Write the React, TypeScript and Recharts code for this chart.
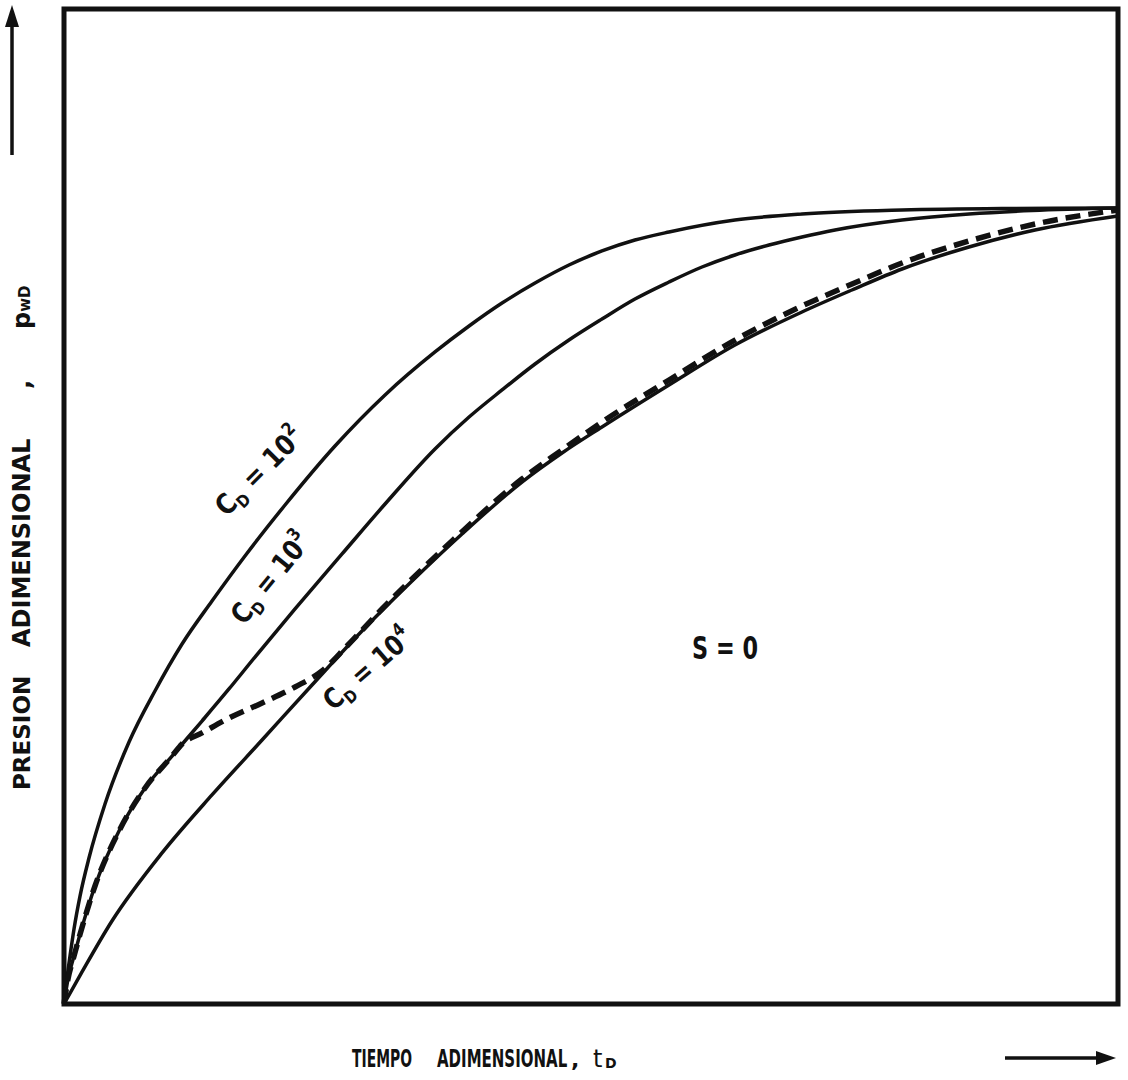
import { LineChart, Line, XAxis, YAxis, ReferenceArea } from 'recharts';

// dimensionless time tD vs dimensionless pressure pwD, S = 0
const curveCd2: [number, number][] = [
    [0, 0], [0.19, 1.81], [0.57, 4.82], [0.95, 7.54], [1.52, 10.85], [2.37, 14.67],
    [3.89, 20.1], [6.17, 26.33], [8.63, 31.46], [11.2, 36.18], [14.04, 40.5],
    [17.17, 45.03], [20.97, 50.15], [25.71, 56.08], [30.46, 61.21], [35.2, 65.53],
    [38.43, 68.14], [41.56, 70.45], [44.69, 72.46], [47.91, 74.27], [51.04, 75.68],
    [54.17, 76.78], [57.4, 77.59], [63.66, 78.79], [70.02, 79.4], [79.51, 79.8],
    [88.99, 79.95], [100, 80.0],
];

const curveCd3: [number, number][] = [
    [0, 0], [0.38, 2.51], [0.95, 4.82], [1.42, 6.63], [2.94, 11.86], [5.22, 17.39],
    [7.69, 21.71], [10.25, 24.92], [13.09, 28.44], [15.65, 31.66], [18.12, 34.87],
    [21.92, 39.7], [26.38, 45.23], [30.46, 50.25], [35.2, 55.78], [38.43, 58.99],
    [41.56, 61.71], [44.69, 64.32], [47.91, 66.73], [51.04, 68.84], [54.17, 70.85],
    [57.4, 72.56], [60.53, 74.07], [63.66, 75.28], [66.89, 76.28], [70.02, 77.09],
    [73.15, 77.79], [79.51, 78.79], [85.86, 79.4], [91.84, 79.75], [100, 80.0],
];

const curveCd4: [number, number][] = [
    [0, 0], [1.71, 3.22], [4.55, 8.34], [9.3, 15.18], [14.04, 21.01], [18.79, 26.53],
    [23.53, 32.06], [28.27, 37.49], [33.02, 42.51], [37.76, 47.24], [43.45, 52.46],
    [47.25, 55.38], [51.04, 57.99], [57.4, 62.21], [63.66, 66.23], [70.02, 69.55],
    [74.76, 71.76], [79.51, 73.87], [85.86, 76.08], [92.13, 77.79], [100, 79.2],
];

// dashed transition curve: rides on CD=10^3 early, then runs onto CD=10^4
const curveDashed: [number, number][] = [
    [0, 0], [0.38, 2.51], [0.95, 4.82], [1.42, 6.63], [2.94, 11.86], [5.22, 17.39],
    [7.69, 21.71], [10.25, 24.92], [11.2, 26.13], [13.09, 27.24], [15.65, 28.74],
    [18.79, 30.25], [21.92, 31.86], [24.48, 33.47], [26.85, 35.98], [30.17, 39.7],
    [36.81, 46.53], [43.45, 52.76], [47.25, 55.68], [51.04, 58.49], [57.4, 62.71],
    [63.66, 66.73], [70.02, 70.15], [74.76, 72.36], [79.51, 74.47], [85.86, 76.68],
    [92.13, 78.39], [100, 79.8],
];

const toPoints = (pts: [number, number][]) => pts.map(([t, p]) => ({ t, p }));

const INK = '#111';
const FONT = '"DejaVu Sans", sans-serif';

function CurveLabel({ x, y, angle, exp, len }: { x: number; y: number; angle: number; exp: string; len: number }) {
    return (
        <text
            x={x}
            y={y}
            transform={`rotate(${angle} ${x} ${y})`}
            textAnchor="middle"
            fontFamily={FONT}
            fontWeight="bold"
            fontSize={28}
            fill={INK}
            textLength={len}
            lengthAdjust="spacingAndGlyphs"
        >
            C
            <tspan dy={6} fontSize={17}>D</tspan>
            <tspan dy={-6}> = 10</tspan>
            <tspan dy={-13} fontSize={18}>{exp}</tspan>
        </text>
    );
}

export default function App() {
    return (
        <div style={{ position: 'absolute', left: 0, top: 0, width: 1128, height: 1080, background: '#fff' }}>
            <LineChart width={1128} height={1080} margin={{ top: 9, left: 64, right: 10, bottom: 76 }}>
                <XAxis type="number" dataKey="t" domain={[0, 100]} hide />
                <YAxis type="number" dataKey="p" domain={[0, 100]} hide />
                <ReferenceArea x1={0} x2={100} y1={0} y2={100} fill="none" stroke={INK} strokeWidth={5} />
                <Line data={toPoints(curveCd2)} dataKey="p" type="monotone" stroke={INK} strokeWidth={3.5} dot={false} isAnimationActive={false} />
                <Line data={toPoints(curveCd3)} dataKey="p" type="monotone" stroke={INK} strokeWidth={3.5} dot={false} isAnimationActive={false} />
                <Line data={toPoints(curveCd4)} dataKey="p" type="monotone" stroke={INK} strokeWidth={3.5} dot={false} isAnimationActive={false} />
                <Line data={toPoints(curveDashed)} dataKey="p" type="monotone" stroke={INK} strokeWidth={5.5} strokeDasharray="15 8" dot={false} isAnimationActive={false} />

                <CurveLabel x={266} y={478} angle={-45} exp="2" len={112} />
                <CurveLabel x={278} y={584} angle={-51} exp="3" len={108} />
                <CurveLabel x={374} y={676} angle={-41} exp="4" len={108} />

                <text x={725} y={659} textAnchor="middle" fontFamily={FONT} fontWeight="bold" fontSize={32} fill={INK} textLength={66} lengthAdjust="spacingAndGlyphs">
                    S = 0
                </text>

                {/* y axis title, reads bottom to top */}
                <g transform="rotate(-90 22 525)" fontFamily={FONT} fontWeight="bold" fill={INK}>
                    <text x={22 - 265} y={533} fontSize={23}>PRESION</text>
                    <text x={22 - 122} y={533} fontSize={24}>ADIMENSIONAL</text>
                    <text x={22 + 136} y={533} fontSize={24}>,</text>
                    <text x={22 + 196} y={533} fontSize={24}>
                        p<tspan fontSize={15}>wD</tspan>
                    </text>
                </g>

                {/* x axis title, lettering squeezed horizontally */}
                <g fontFamily={FONT} fontWeight="bold" fill={INK} fontSize={25}>
                    <text transform="translate(352 1067) scale(0.556 1)">TIEMPO</text>
                    <text transform="translate(437 1067) scale(0.6 1)">ADIMENSIONAL</text>
                    <text x={571} y={1067} fontSize={22}>,</text>
                    <text x={593} y={1067} fontSize={24} fontWeight="normal">t</text>
                    <text x={605} y={1068} fontSize={14}>D</text>
                </g>

                {/* direction arrows */}
                <line x1={12} y1={155} x2={12} y2={20} stroke={INK} strokeWidth={3.5} />
                <path d="M12 5 L19 27 L5 27 Z" fill={INK} />
                <line x1={1005} y1={1058} x2={1100} y2={1058} stroke={INK} strokeWidth={3.5} />
                <path d="M1116 1058 L1096 1051 L1096 1065 Z" fill={INK} />
            </LineChart>
        </div>
    );
}
